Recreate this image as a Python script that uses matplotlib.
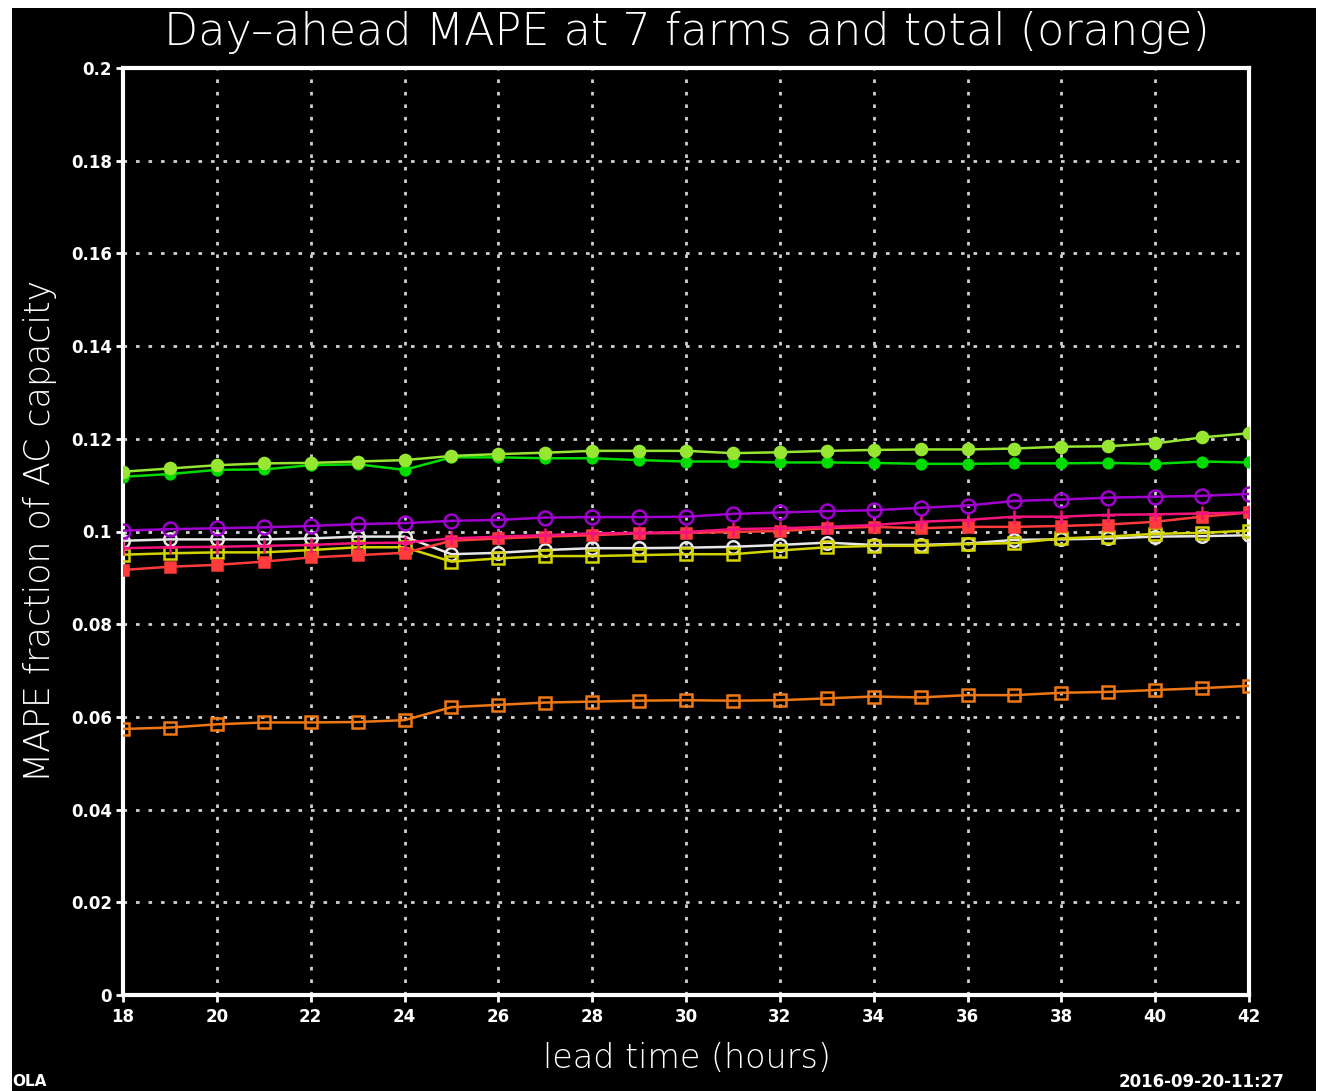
import numpy as np
import matplotlib
matplotlib.use("Agg")
import matplotlib.pyplot as plt
from matplotlib.patches import Rectangle
from matplotlib.ticker import FuncFormatter

# lead time (hours)
hours = list(range(18, 43))

# MAPE, fraction of AC capacity
yellowgreen = [0.1129, 0.1136, 0.1143, 0.1147, 0.1148, 0.1151, 0.1154, 0.1163, 0.1167,
               0.1170, 0.1174, 0.1174, 0.1174, 0.1169, 0.1171, 0.1174, 0.1176, 0.1177,
               0.1177, 0.1179, 0.1183, 0.1184, 0.1190, 0.1203, 0.1212]
green = [0.1118, 0.1124, 0.1133, 0.1134, 0.1143, 0.1145, 0.1133, 0.1160, 0.1160,
         0.1158, 0.1158, 0.1154, 0.1151, 0.1151, 0.1149, 0.1149, 0.1148, 0.1146,
         0.1146, 0.1147, 0.1147, 0.1148, 0.1146, 0.1151, 0.1149]
purple = [0.1002, 0.1005, 0.1007, 0.1009, 0.1012, 0.1016, 0.1018, 0.1023, 0.1025,
          0.1030, 0.1031, 0.1031, 0.1032, 0.1038, 0.1041, 0.1044, 0.1046, 0.1051,
          0.1056, 0.1066, 0.1069, 0.1073, 0.1075, 0.1077, 0.1081]
pink = [0.0964, 0.0966, 0.0967, 0.0969, 0.0971, 0.0975, 0.0976, 0.0985, 0.0989,
        0.0992, 0.0996, 0.0997, 0.0999, 0.1005, 0.1007, 0.1010, 0.1014, 0.1021,
        0.1025, 0.1032, 0.1032, 0.1036, 0.1037, 0.1039, 0.1041]
red = [0.0917, 0.0924, 0.0928, 0.0935, 0.0944, 0.0949, 0.0954, 0.0980, 0.0985,
       0.0989, 0.0992, 0.0996, 0.0997, 0.0999, 0.1001, 0.1007, 0.1010, 0.1007,
       0.1010, 0.1010, 0.1012, 0.1015, 0.1021, 0.1032, 0.1041]
white = [0.0980, 0.0983, 0.0983, 0.0983, 0.0985, 0.0989, 0.0989, 0.0951, 0.0954,
         0.0960, 0.0964, 0.0964, 0.0965, 0.0967, 0.0971, 0.0976, 0.0971, 0.0971,
         0.0974, 0.0982, 0.0983, 0.0985, 0.0989, 0.0990, 0.0992]
yellow = [0.0950, 0.0953, 0.0955, 0.0955, 0.0960, 0.0966, 0.0966, 0.0935, 0.0942,
          0.0947, 0.0947, 0.0949, 0.0951, 0.0951, 0.0959, 0.0966, 0.0969, 0.0969,
          0.0973, 0.0975, 0.0985, 0.0989, 0.0995, 0.0997, 0.1002]
orange = [0.0574, 0.0577, 0.0584, 0.0588, 0.0588, 0.0589, 0.0593, 0.0621, 0.0626,
          0.0631, 0.0633, 0.0635, 0.0636, 0.0635, 0.0636, 0.0640, 0.0644, 0.0642,
          0.0647, 0.0647, 0.0652, 0.0654, 0.0658, 0.0662, 0.0667]

W, H = 1320, 1091
fig = plt.figure(figsize=(W / 100, H / 100), dpi=100, facecolor="white")
# black page inside a thin white margin
fig.patches.append(Rectangle((12 / W, 0), (1316 - 12) / W, 1 - 8 / H,
                             transform=fig.transFigure, facecolor="black",
                             edgecolor="none", zorder=-10))

ax = fig.add_axes([123 / W, 1 - 995 / H, (1249 - 123) / W, (995 - 68) / H])
ax.set_facecolor("black")

# line, colour, marker, filled?, marker size
series = [
    (white, "#e8e8e8", "o", False, 9),
    (yellow, "#d4d400", "s", False, 9),
    (red, "#ff3b3b", "s", True, 7),
    (pink, "#f5147d", "+", True, 10),
    (purple, "#a000d0", "o", False, 10),
    (green, "#00dc00", "o", True, 7),
    (yellowgreen, "#96e632", "o", True, 8),
    (orange, "#f07814", "s", False, 9),
]
for vals, col, mk, filled, ms in series:
    ax.plot(hours, vals, color=col, lw=1.8, marker=mk, markersize=ms,
            markerfacecolor=col if filled else "none",
            markeredgecolor=col, markeredgewidth=1.8, zorder=3)

ax.set_xlim(18, 42)
ax.set_ylim(0, 0.2)
ax.set_xticks(np.arange(18, 43, 2))
ax.set_yticks(np.arange(0, 0.201, 0.02))
ax.yaxis.set_major_formatter(FuncFormatter(lambda v, p: f"{v:.2f}".rstrip("0").rstrip(".")))

ax.grid(True, color="#d0d0d0", linestyle=(0, (1.3, 3.2)), linewidth=2.0, zorder=1)
for sp in ax.spines.values():
    sp.set_color("white")
    sp.set_linewidth(3)
ax.tick_params(colors="white", labelcolor="white", length=5, width=2,
               direction="out", labelsize=12)
for lab in ax.get_xticklabels() + ax.get_yticklabels():
    lab.set_fontweight("bold")
ax.tick_params(axis="x", pad=4)
ax.tick_params(axis="y", pad=3)

fig.text(687 / W, 1 - 33 / H, "Day\u2013ahead MAPE at 7 farms and total (orange)",
         color="white", fontsize=32, ha="center", va="center",
         fontweight="light")
fig.text(687 / W, 1 - 1058 / H, "lead time (hours)", color="white",
         fontsize=24, ha="center", va="center", fontweight="light")
fig.text(40 / W, 1 - 531 / H, "MAPE fraction of AC capacity", color="white",
         fontsize=25, ha="center", va="center", rotation=90, fontweight="light")
fig.text(12 / W, 1 - 1082 / H, "OLA", color="white", fontsize=11,
         ha="left", va="center", fontweight="bold")
fig.text(1285 / W, 1 - 1082 / H, "2016-09-20-11:27", color="white", fontsize=12,
         ha="right", va="center", fontweight="bold")

fig.savefig("out.png", dpi=100, facecolor=fig.get_facecolor())
